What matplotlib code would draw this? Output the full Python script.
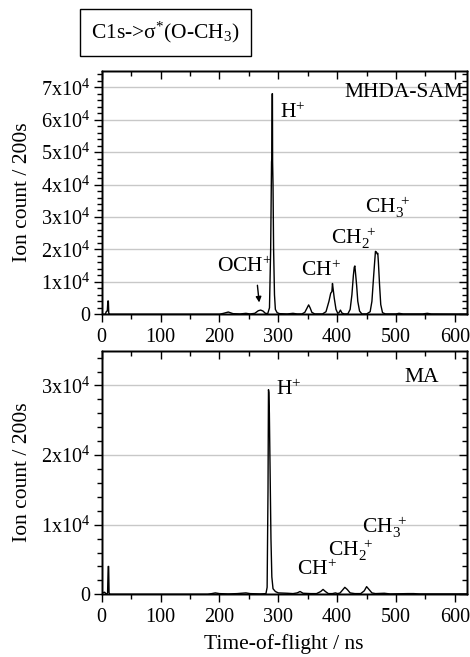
import matplotlib
matplotlib.use("Agg")
import matplotlib.pyplot as plt
from matplotlib.ticker import MultipleLocator, FixedLocator

plt.rcParams['font.family'] = ['Liberation Serif', 'DejaVu Serif']
plt.rcParams['mathtext.fontset'] = 'custom'
plt.rcParams['mathtext.rm'] = 'Liberation Serif'
plt.rcParams['mathtext.it'] = 'Liberation Serif:italic'
plt.rcParams['mathtext.bf'] = 'Liberation Serif:bold'

# ---------------- data ----------------
top_tof = [0, 6, 8, 9.5, 10.5, 11.3, 12, 14, 200, 207, 215, 223, 235, 245, 252, 260, 266, 270,
           274, 278, 282, 285, 287, 288.5, 289, 289.6, 290, 290.3, 291, 292, 293.5, 295, 298,
           302, 315, 325, 332, 340, 345, 349, 351.5, 354, 357, 362, 375, 381, 386, 389, 391,
           392, 393, 395, 398, 401, 403, 405.5, 408, 412, 418, 422, 425, 427.5, 429, 430, 431,
           433, 435, 438, 442, 450, 456, 459, 462, 464, 465, 466.5, 468, 469, 470, 472, 474,
           477, 482, 500, 505, 512, 545, 553, 560, 620]
top_counts = [0, 0, 900, 1000, 4100, 4100, 300, 0, 0, 300, 700, 200, 100, 300, 100, 300, 1100,
              1300, 1000, 300, 200, 2000, 20000, 47000, 48000, 68000, 68000, 47000, 40000,
              20000, 6000, 1500, 500, 200, 100, 300, 100, 100, 600, 2000, 2900, 2000, 600, 100,
              100, 800, 4000, 6500, 7000, 9500, 8000, 5000, 1500, 300, 500, 1300, 400, 100, 100,
              1500, 6000, 12000, 14500, 14900, 13000, 9000, 4000, 1000, 100, 100, 800, 4000,
              12000, 17000, 19400, 19200, 18600, 18800, 16000, 9000, 3000, 500, 100, 100, 300,
              100, 100, 300, 100, 50]

bot_tof = [0, 5, 8, 10, 11, 11.8, 12.5, 14, 180, 187, 193, 200, 215, 230, 245, 252, 270, 279,
           281, 282.5, 283.3, 284, 284.8, 286, 287.5, 289, 291, 295, 300, 315, 325, 332, 337,
           342, 355, 365, 372, 376, 380, 385, 392, 397, 401, 405, 409, 413, 417, 422, 430, 440,
           446, 450, 454, 459, 465, 480, 490, 520, 530, 540, 620]
bot_counts = [200, 300, 0, 200, 4000, 4000, 200, 0, 0, 100, 200, 100, 50, 100, 200, 100, 50,
              100, 1000, 15000, 29400, 29000, 26000, 18000, 8000, 2500, 800, 400, 200, 150, 100,
              200, 400, 150, 100, 100, 400, 700, 400, 100, 100, 200, 100, 200, 600, 1000, 700,
              200, 100, 100, 500, 1100, 700, 200, 100, 150, 50, 100, 100, 50, 50]

top_yticks = [0, 10000, 20000, 30000, 40000, 50000, 60000, 70000]
top_ylabels = ['0'] + [r'%dx10$^{4}$' % i for i in range(1, 8)]
bot_yticks = [0, 10000, 20000, 30000]
bot_ylabels = ['0'] + [r'%dx10$^{4}$' % i for i in range(1, 4)]
xticks = [0, 100, 200, 300, 400, 500, 600]

top_peaks = [(303, 62200, r'H$^{+}$'), (196, 14600, r'OCH$^{+}$'), (339, 13300, r'CH$^{+}$'),
             (390, 23400, r'CH$_{2}^{\ +}$'), (446.5, 33000, r'CH$_{3}^{\ +}$')]
bot_peaks = [(296.7, 29400, r'H$^{+}$'), (331.8, 3500, r'CH$^{+}$'),
             (385, 6300, r'CH$_{2}^{\ +}$'), (442, 9700, r'CH$_{3}^{\ +}$')]

FS = 15.5
TFS = 14.5

fig = plt.figure(figsize=(4.70, 6.57), dpi=100)
W, H = 470, 657
ax1 = fig.add_axes([101.7 / W, 1 - 314.3 / H, 365 / W, (314.3 - 71) / H])
ax2 = fig.add_axes([101.7 / W, 1 - 594.3 / H, 365 / W, (594.3 - 350.7) / H])


def style(ax, ymax, yticks, ylabels):
    ax.set_xlim(0, 620)
    ax.set_ylim(0, ymax)
    ax.set_yticks(yticks)
    ax.set_yticklabels(ylabels)
    ax.set_xticks(xticks)
    ax.xaxis.set_minor_locator(MultipleLocator(50))
    ax.yaxis.set_minor_locator(MultipleLocator(2000))
    ax.grid(axis='y', which='major', color='#c8c8c8', lw=1.0)
    ax.set_axisbelow(True)
    ax.tick_params(which='major', direction='out', length=6, width=1, labelsize=TFS)
    ax.tick_params(axis='y', which='major', pad=2)
    ax.tick_params(axis='x', which='major', pad=4)
    ax.tick_params(which='minor', direction='out', length=3.5, width=1)
    for s in ax.spines.values():
        s.set_linewidth(1.0)
    ax.set_ylabel('Ion count / 200s', fontsize=FS)
    ax.yaxis.set_label_coords(-0.19, 0.5)
    # mirrored inward ticks on right and top
    axr = ax.twinx()
    axr.set_ylim(0, ymax)
    axr.yaxis.set_major_locator(FixedLocator(yticks))
    axr.yaxis.set_minor_locator(MultipleLocator(2000))
    axr.tick_params(which='both', direction='in', labelright=False, width=1)
    axr.tick_params(which='major', length=6)
    axr.tick_params(which='minor', length=3.5)
    axt = ax.twiny()
    axt.set_xlim(0, 620)
    axt.xaxis.set_major_locator(FixedLocator(xticks))
    axt.xaxis.set_minor_locator(MultipleLocator(50))
    axt.tick_params(which='both', direction='in', labeltop=False, width=1)
    axt.tick_params(which='major', length=6)
    axt.tick_params(which='minor', length=3.5)
    for a in (axr, axt):
        for s in a.spines.values():
            s.set_linewidth(1.0)


style(ax1, 75000, top_yticks, top_ylabels)
style(ax2, 35000, bot_yticks, bot_ylabels)

ax1.plot(top_tof, top_counts, color='black', lw=1.0)
ax2.plot(bot_tof, bot_counts, color='black', lw=1.0)

for x, y, t in top_peaks:
    ax1.text(x, y, t, fontsize=FS, ha='left', va='center')
for x, y, t in bot_peaks:
    ax2.text(x, y, t, fontsize=FS, ha='left', va='center')

ax1.text(0.99, 0.91, 'MHDA-SAM', transform=ax1.transAxes, fontsize=FS, ha='right', va='center')
ax2.text(0.925, 0.89, 'MA', transform=ax2.transAxes, fontsize=FS, ha='right', va='center')

ax1.annotate('', xy=(268, 2800), xytext=(264, 9800),
             arrowprops=dict(arrowstyle='-|>', color='black', lw=1.0, mutation_scale=8))

ax2.set_xlabel('Time-of-flight / ns', fontsize=FS, labelpad=5)

fig.text(165.5 / W, 1 - 32.5 / H, r'C1s->σ$^{*}$(O-CH$_{3}$)', fontsize=FS, ha='center', va='center',
         bbox=dict(boxstyle='square,pad=0.5', fc='white', ec='black', lw=1.0))

fig.savefig('out.png', dpi=100)
